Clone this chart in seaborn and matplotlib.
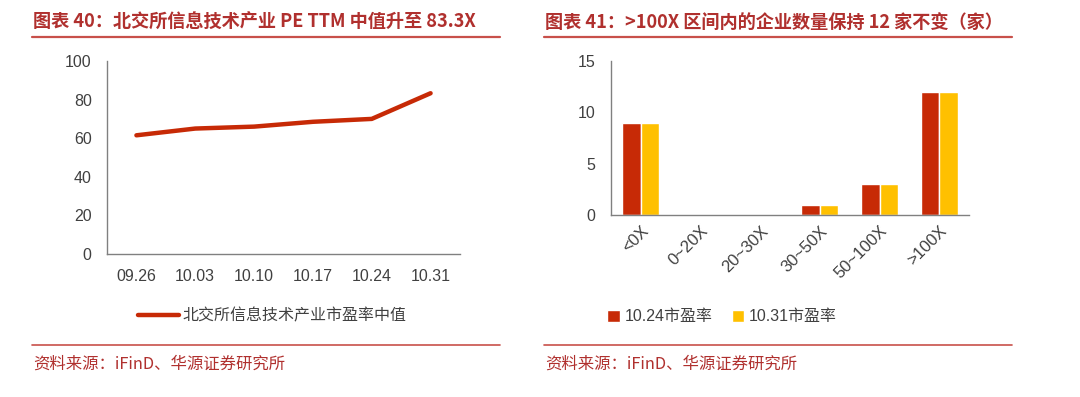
import numpy as np
import pandas as pd
import matplotlib
matplotlib.use("Agg")
import matplotlib.pyplot as plt
import seaborn as sns
from matplotlib.lines import Line2D

sns.set_style("white")
plt.rcParams['font.family'] = ['Liberation Sans', 'Noto Sans CJK SC', 'DejaVu Sans']

# data
dates = ["09.26", "10.03", "10.10", "10.17", "10.24", "10.31"]
pe_median = [61.5, 65.0, 66.0, 68.5, 70.0, 83.3]
line_label = "北交所信息技术产业市盈率中值"

bins = ["<0X", "0~20X", "20~30X", "30~50X", "50~100X", ">100X"]
cnt_1024 = [9, 0, 0, 1, 3, 12]
cnt_1031 = [9, 0, 0, 1, 3, 12]
series_names = ["10.24市盈率", "10.31市盈率"]

title_left = "图表 40：北交所信息技术产业 PE TTM 中值升至 83.3X"
title_right = "图表 41：>100X 区间内的企业数量保持 12 家不变（家）"
source = "资料来源：iFinD、华源证券研究所"

red = "#C72A06"
yellow = "#FFC000"
title_c = "#B0302E"
rule_c = "#C8504A"
axis_c = "#808080"
text_c = "#404040"

W, H = 1080, 397
fig = plt.figure(figsize=(W / 100, H / 100), dpi=100)

def px_axes(x0, y0, x1, y1):
    return fig.add_axes([x0 / W, 1 - y1 / H, (x1 - x0) / W, (y1 - y0) / H])

def style_axes(ax, yticks):
    for s in ["top", "right"]:
        ax.spines[s].set_visible(False)
    for s in ["left", "bottom"]:
        ax.spines[s].set_color(axis_c)
        ax.spines[s].set_linewidth(1.0)
    ax.set_xlim(-0.5, len(dates) - 0.5)
    ax.set_xticks(np.arange(-0.5, len(dates), 1.0))
    ax.set_xticklabels([])
    ax.set_xticks(np.arange(len(dates)), minor=True)
    ax.tick_params(axis="x", which="major", direction="out", length=5, color=axis_c, width=1)
    ax.tick_params(axis="x", which="minor", length=0, labelsize=11.5, labelcolor=text_c, pad=11)
    ax.set_yticks(yticks)
    ax.tick_params(axis="y", direction="out", length=5, color=axis_c, width=1,
                   labelsize=11.5, labelcolor=text_c, pad=6)
    ax.set_xlabel("")
    ax.set_ylabel("")

# left chart
ax1 = px_axes(107, 61, 460, 254)
df1 = pd.DataFrame({"pos": np.arange(len(dates)), "pe": pe_median})
sns.lineplot(data=df1, x="pos", y="pe", color=red, linewidth=3.2, ax=ax1,
             solid_capstyle="round")
ax1.set_ylim(0, 100)
style_axes(ax1, [0, 20, 40, 60, 80, 100])
ax1.set_xticklabels(dates, minor=True)
ax1.legend(handles=[Line2D([0], [0], color=red, lw=3.2, solid_capstyle="round")],
           labels=[line_label], loc="center", bbox_to_anchor=(272 / W, 1 - 316 / H),
           bbox_transform=fig.transFigure, frameon=False, fontsize=11.5,
           handlelength=2.6, handletextpad=0.2, labelcolor=text_c)

# right chart
ax2 = px_axes(611, 61, 969, 215)
df2 = pd.DataFrame({
    "bin": bins * 2,
    "count": cnt_1024 + cnt_1031,
    "series": [series_names[0]] * len(bins) + [series_names[1]] * len(bins),
})
sns.barplot(data=df2, x="bin", y="count", hue="series", palette=[red, yellow],
            width=0.62, gap=0, saturation=1, ax=ax2)
ax2.set_ylim(0, 15)
style_axes(ax2, [0, 5, 10, 15])
ax2.set_xticklabels(bins, minor=True, rotation=45, ha="right", rotation_mode="anchor")
ax2.tick_params(axis="x", which="minor", pad=6, labelsize=12)
ax2.legend(loc="center", bbox_to_anchor=(722 / W, 1 - 317 / H),
           bbox_transform=fig.transFigure, frameon=False, fontsize=11.5, ncol=2,
           handlelength=0.8, handleheight=0.8, handletextpad=0.3, columnspacing=1.2,
           labelcolor=text_c)

# titles, rules, sources
for x0, x1, title in [(32, 500, title_left), (544, 1012, title_right)]:
    fig.text(x0 / W + 0.001, 1 - 22 / H, title, fontsize=13.1, color=title_c,
             fontweight="bold", va="center", ha="left",
             family=['Noto Sans CJK SC', 'DejaVu Sans'])
    fig.add_artist(Line2D([x0 / W, x1 / W], [1 - 37 / H] * 2, color=rule_c, lw=1.6))
    fig.add_artist(Line2D([x0 / W, x1 / W], [1 - 345 / H] * 2, color=rule_c, lw=1.2))
    fig.text(x0 / W + 0.001, 1 - 364 / H, source, fontsize=11.8, color=title_c,
             va="center", ha="left", family=['Noto Sans CJK SC', 'DejaVu Sans'])

fig.savefig("out.png", dpi=100)
